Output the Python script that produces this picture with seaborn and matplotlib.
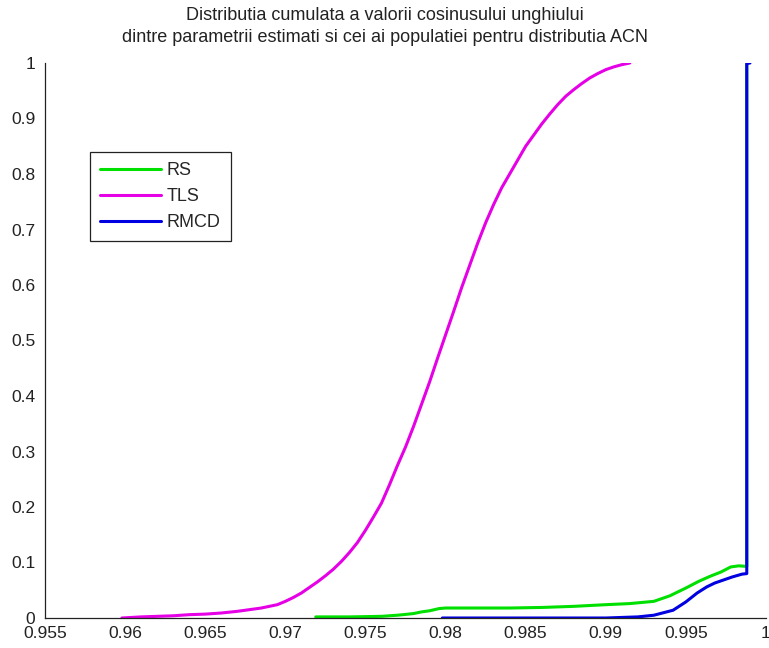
import matplotlib
matplotlib.use("Agg")
import matplotlib.pyplot as plt
import seaborn as sns
import pandas as pd
from matplotlib.ticker import FormatStrFormatter

# Empirical CDF of the cosine between estimated and population parameters
tls_x = [0.9598, 0.9610, 0.9620, 0.9630, 0.9640, 0.9650, 0.9660, 0.9670, 0.9680,
         0.9685, 0.9690, 0.9695, 0.9700, 0.9705, 0.9710, 0.9715, 0.9720, 0.9725,
         0.9730, 0.9735, 0.9740, 0.9745, 0.9750, 0.9755, 0.9760, 0.9765, 0.9770,
         0.9775, 0.9780, 0.9785, 0.9790, 0.9795, 0.9800, 0.9805, 0.9810, 0.9815,
         0.9820, 0.9825, 0.9830, 0.9835, 0.9840, 0.9845, 0.9850, 0.9855, 0.9860,
         0.9865, 0.9870, 0.9875, 0.9880, 0.9885, 0.9890, 0.9895, 0.9900, 0.9905,
         0.9910, 0.9915]
tls_y = [0.000, 0.002, 0.003, 0.004, 0.006, 0.007, 0.009, 0.012, 0.016,
         0.018, 0.021, 0.024, 0.030, 0.037, 0.045, 0.055, 0.065, 0.076,
         0.088, 0.102, 0.118, 0.136, 0.158, 0.182, 0.207, 0.240, 0.275,
         0.308, 0.345, 0.385, 0.425, 0.468, 0.510, 0.552, 0.595, 0.635,
         0.675, 0.712, 0.745, 0.775, 0.800, 0.825, 0.850, 0.870, 0.890,
         0.908, 0.925, 0.940, 0.952, 0.963, 0.973, 0.981, 0.988, 0.993,
         0.997, 1.000]

rs_x = [0.9719, 0.9740, 0.9760, 0.9770, 0.9780, 0.9785, 0.9790, 0.9796, 0.9800,
        0.9820, 0.9840, 0.9860, 0.9880, 0.9900, 0.9915, 0.9930, 0.9940, 0.9950,
        0.9958, 0.9965, 0.9972, 0.9978, 0.9983, 0.9988, 0.9988]
rs_y = [0.002, 0.002, 0.003, 0.005, 0.008, 0.011, 0.013, 0.017, 0.018,
        0.018, 0.018, 0.019, 0.021, 0.024, 0.026, 0.030, 0.040, 0.054,
        0.066, 0.075, 0.083, 0.092, 0.094, 0.093, 1.000]

rmcd_x = [0.9798, 0.9900, 0.9920, 0.9930, 0.9942, 0.9950, 0.9957, 0.9963, 0.9968,
          0.9973, 0.9979, 0.9985, 0.9988, 0.9988, 0.9990]
rmcd_y = [0.000, 0.000, 0.002, 0.005, 0.014, 0.029, 0.045, 0.056, 0.063,
          0.068, 0.074, 0.079, 0.080, 0.999, 1.000]

series_names = ["RS", "TLS", "RMCD"]
series_colors = ["#00e000", "#e600e6", "#0000e0"]

x_ticks = [0.955, 0.96, 0.965, 0.97, 0.975, 0.98, 0.985, 0.99, 0.995, 1.0]
y_ticks = [0, 0.1, 0.2, 0.3, 0.4, 0.5, 0.6, 0.7, 0.8, 0.9, 1.0]

title_text = ("Distributia cumulata a valorii cosinusului unghiului\n"
              "dintre parametrii estimati si cei ai populatiei pentru distributia ACN")

sns.set_style("white")
plt.rcParams["font.family"] = ["Liberation Sans", "DejaVu Sans"]

frames = []
for name, xs, ys in zip(series_names, [rs_x, tls_x, rmcd_x], [rs_y, tls_y, rmcd_y]):
    frames.append(pd.DataFrame({"cos": xs, "cdf": ys, "metoda": name,
                                "ordine": range(len(xs))}))
df = pd.concat(frames, ignore_index=True)

W, H = 769, 648
fig = plt.figure(figsize=(W / 100, H / 100), dpi=100)
ax = fig.add_axes([45 / W, 1 - 618 / H, (766 - 45) / W, (618 - 63) / H])

for name, color in zip(series_names, series_colors):
    sub = df[df["metoda"] == name]
    sns.lineplot(data=sub, x="cos", y="cdf", sort=False, estimator=None,
                 color=color, lw=2.2, label=name, ax=ax)

ax.set_xlim(0.955, 1.0)
ax.set_ylim(0, 1)
ax.set_xticks(x_ticks)
ax.set_yticks(y_ticks)
ax.xaxis.set_major_formatter(FormatStrFormatter("%g"))
ax.yaxis.set_major_formatter(FormatStrFormatter("%g"))
ax.set_xlabel("")
ax.set_ylabel("")
ax.tick_params(direction="in", length=5, width=0.8, labelsize=12.5,
               colors="#222222")
ax.tick_params(axis="x", pad=6)
ax.tick_params(axis="y", pad=7)
for side in ["top", "right"]:
    ax.spines[side].set_visible(False)
for side in ["left", "bottom"]:
    ax.spines[side].set_color("#222222")
    ax.spines[side].set_linewidth(0.9)

leg = ax.legend(loc="upper left", bbox_to_anchor=(90 / W, 1 - 152 / H),
                bbox_transform=fig.transFigure, borderaxespad=0,
                fancybox=False, edgecolor="#222222", framealpha=1,
                fontsize=13, handlelength=3.4, handletextpad=0.3,
                labelspacing=0.5, borderpad=0.55)
leg.get_frame().set_linewidth(0.9)

fig.text(0.5, 1 - 7 / H, title_text, ha="center", va="top", fontsize=13,
         color="#222222", linespacing=1.38)

fig.savefig("out.png", dpi=100, facecolor="white")
